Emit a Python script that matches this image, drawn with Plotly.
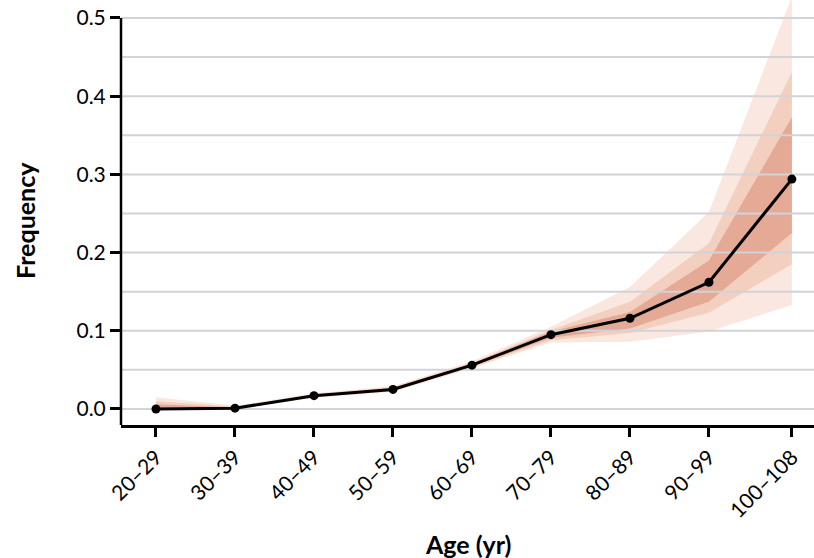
import plotly.graph_objects as go

age_labels = ["20–29", "30–39", "40–49", "50–59", "60–69", "70–79", "80–89", "90–99", "100–108"]
age_mid = [24.5, 34.5, 44.5, 54.5, 64.5, 74.5, 84.5, 94.5, 105.0]
freq = [0.0, 0.001, 0.017, 0.025, 0.056, 0.095, 0.116, 0.162, 0.294]
outer_lo = [0.0, 0.0, 0.014, 0.022, 0.052, 0.085, 0.086, 0.099, 0.133]
outer_hi = [0.015, 0.004, 0.020, 0.029, 0.061, 0.105, 0.156, 0.252, 0.527]
mid_lo = [0.0, 0.0, 0.015, 0.023, 0.053, 0.088, 0.097, 0.123, 0.185]
mid_hi = [0.010, 0.003, 0.019, 0.028, 0.059, 0.101, 0.137, 0.212, 0.431]
inner_lo = [0.0, 0.0005, 0.016, 0.024, 0.054, 0.091, 0.103, 0.137, 0.225]
inner_hi = [0.006, 0.002, 0.018, 0.027, 0.058, 0.099, 0.124, 0.190, 0.373]
y_ticks = [0.0, 0.1, 0.2, 0.3, 0.4, 0.5]
grid_vals = [0.0, 0.05, 0.1, 0.15, 0.2, 0.25, 0.3, 0.35, 0.4, 0.45, 0.5]

X_RANGE = [20.07, 107.8]
Y_RANGE = [-0.0205, 0.523]
FONT = "Lato"
fig = go.Figure()

for lo, hi, col in [(outer_lo, outer_hi, "#FAE8E0"), (mid_lo, mid_hi, "#F3CFC0"), (inner_lo, inner_hi, "#E5AA96")]:
    fig.add_trace(go.Scatter(
        x=age_mid + age_mid[::-1], y=hi + lo[::-1],
        fill="toself", fillcolor=col, line=dict(width=0), mode="lines",
        hoverinfo="skip", showlegend=False))

# horizontal grid drawn above the bands but below the data line
gx, gy = [], []
for g in grid_vals:
    gx += [X_RANGE[0], X_RANGE[1], None]
    gy += [g, g, None]
fig.add_trace(go.Scatter(x=gx, y=gy, mode="lines", line=dict(color="#D2D2D8", width=2),
                         hoverinfo="skip", showlegend=False, cliponaxis=False))

fig.add_trace(go.Scatter(
    x=age_mid, y=freq, mode="lines+markers",
    line=dict(color="black", width=3),
    marker=dict(color="black", size=9),
    showlegend=False))

# y axis line from bottom to 0.5
fig.add_shape(type="line", xref="paper", x0=0, x1=0, yref="y", y0=Y_RANGE[0], y1=0.5,
              line=dict(color="black", width=2.5), layer="above")

fig.update_layout(
    width=814, height=558,
    margin=dict(l=121, r=0, t=0, b=133),
    plot_bgcolor="white", paper_bgcolor="white",
    font=dict(family=FONT, color="black", size=21),
    xaxis=dict(range=X_RANGE, tickmode="array", tickvals=age_mid, ticktext=age_labels,
               tickangle=-45, showgrid=False, zeroline=False,
               showline=True, linecolor="black", linewidth=2.5,
               ticks="outside", ticklen=9, tickwidth=3, tickcolor="black",
               tickfont=dict(size=21, family=FONT)),
    yaxis=dict(range=Y_RANGE, tickmode="array", tickvals=y_ticks,
               ticktext=[f"{v:.1f}" for v in y_ticks],
               showgrid=False, zeroline=False, showline=False,
               ticks="outside", ticklen=10, tickwidth=2.5, tickcolor="black",
               tickfont=dict(size=21, family=FONT)),
    annotations=[
        dict(text="<b>Frequency</b>", xref="paper", yref="paper", x=(25 - 121) / 693, y=0.48,
             textangle=-90, showarrow=False, xanchor="center", yanchor="middle",
             font=dict(size=25, family=FONT)),
        dict(text="<b>Age (yr)</b>", xref="paper", yref="paper", x=(468 - 121) / 693, y=(425 - 544) / 425,
             showarrow=False, xanchor="center", yanchor="middle",
             font=dict(size=25, family=FONT)),
    ],
)

fig.write_html("out.html")
